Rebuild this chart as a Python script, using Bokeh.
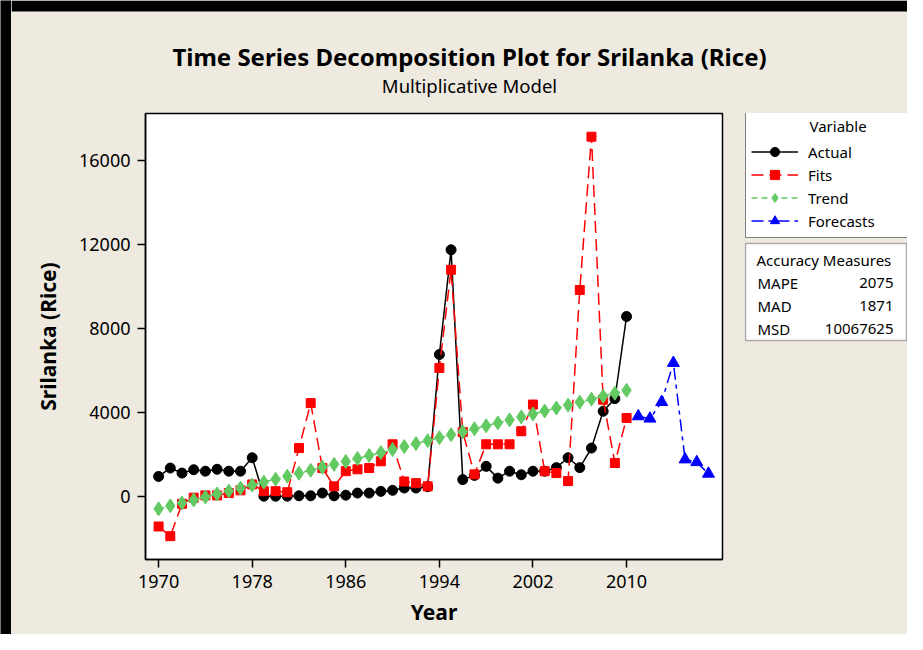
from bokeh.plotting import figure
from bokeh.layouts import row, column
from bokeh.models import Range1d, FixedTicker, Legend, LegendItem, Label, BoxAnnotation
from bokeh.embed import file_html
from bokeh.resources import INLINE

# ---------------- data ----------------
years = [1970, 1971, 1972, 1973, 1974, 1975, 1976, 1977, 1978, 1979,
         1980, 1981, 1982, 1983, 1984, 1985, 1986, 1987, 1988, 1989,
         1990, 1991, 1992, 1993, 1994, 1995, 1996, 1997, 1998, 1999,
         2000, 2001, 2002, 2003, 2004, 2005, 2006, 2007, 2008, 2009, 2010]
actual = [950, 1350, 1110, 1270, 1200, 1290, 1200, 1200, 1840, 10,
          10, 10, 30, 30, 160, 30, 60, 160, 160, 240,
          290, 400, 400, 460, 6750, 11730, 800, 1000, 1430, 870,
          1200, 1030, 1200, 1200, 1370, 1840, 1370, 2300, 4050, 4650, 8560]
fits = [-1430, -1890, -350, -60, 50, 50, 160, 290, 570, 250,
        250, 200, 2300, 4440, 1350, 480, 1200, 1290, 1350, 1670,
        2480, 710, 630, 480, 6110, 10780, 3060, 1050, 2480, 2480,
        2480, 3100, 4370, 1200, 1110, 730, 9820, 17110, 4600, 1590, 3730]
trend = [-590, -449, -308, -167, -26, 115, 256, 397, 538, 679,
         820, 961, 1102, 1243, 1384, 1525, 1666, 1807, 1948, 2089,
         2230, 2371, 2512, 2653, 2794, 2935, 3076, 3217, 3358, 3499,
         3640, 3781, 3922, 4063, 4204, 4345, 4486, 4627, 4768, 4909, 5050]
forecast_years = [2011, 2012, 2013, 2014, 2015, 2016, 2017]
forecasts = [3810, 3700, 4490, 6350, 1760, 1630, 1080]

x_ticks = [1970, 1978, 1986, 1994, 2002, 2010]
y_ticks = [0, 4000, 8000, 12000, 16000]

legend_labels = ["Actual", "Fits", "Trend", "Forecasts"]
accuracy_names = ["MAPE", "MAD", "MSD"]
accuracy_values = ["2075", "1871", "10067625"]

title_text = "Time Series Decomposition Plot for Srilanka (Rice)"
subtitle_text = "Multiplicative Model"

# ---------------- styling ----------------
BG = "#eeeae0"
FONT = "Noto Sans"
GREEN = "#63c963"
NAN = float("nan")
S = dict(left_units="screen", right_units="screen", top_units="screen",
         bottom_units="screen")

def blank(width, height, fill=BG):
    f = figure(width=width, height=height, output_backend="svg",
               toolbar_location=None, title=None, x_axis_type=None, y_axis_type=None,
               x_range=Range1d(0, 1), y_range=Range1d(0, 1),
               min_border=0, min_border_left=0, min_border_right=0,
               min_border_top=0, min_border_bottom=0,
               background_fill_color=fill, border_fill_color=fill)
    f.outline_line_color = None
    f.xgrid.visible = False
    f.ygrid.visible = False
    return f

def txt(x, y, text, size="15px", align="left", bold=False):
    return Label(x=x, y=y, x_units="screen", y_units="screen", text=text,
                 text_font=FONT, text_font_size=size, text_color="black",
                 text_font_style="bold" if bold else "normal",
                 text_baseline="middle", text_align=align)

# ---------------- main plot ----------------
p = figure(width=733, height=531, output_backend="svg", toolbar_location=None,
           title=None,
           x_range=Range1d(1968.88, 2018.2), y_range=Range1d(-3000, 18214),
           min_border_left=134, min_border_right=22, min_border_top=10,
           min_border_bottom=75,
           background_fill_color="white", border_fill_color=BG)
p.xgrid.visible = False
p.ygrid.visible = False
p.outline_line_color = "black"
p.outline_line_width = 1.5

p.xaxis.ticker = FixedTicker(ticks=x_ticks)
p.yaxis.ticker = FixedTicker(ticks=y_ticks)
p.xaxis.axis_label = "Year"
p.yaxis.axis_label = "Srilanka (Rice)"
for ax in (p.xaxis[0], p.yaxis[0]):
    ax.major_tick_out = 8
    ax.major_tick_in = 0
    ax.minor_tick_out = 0
    ax.minor_tick_in = 0
    ax.axis_line_color = "black"
    ax.axis_line_width = 1.5
    ax.major_tick_line_color = "black"
    ax.major_tick_line_width = 1.5
    ax.major_label_text_font = FONT
    ax.major_label_text_font_size = "18px"
    ax.major_label_text_color = "black"
    ax.major_label_standoff = 7
    ax.axis_label_text_font = FONT
    ax.axis_label_text_font_style = "bold"
    ax.axis_label_text_font_size = "21px"
    ax.axis_label_text_color = "black"
p.yaxis.axis_label_standoff = 14
p.xaxis.axis_label_standoff = 7

STY = {
    "Actual": dict(line=dict(line_color="black", line_width=1.5),
                   pts=dict(marker="circle", size=10, color="black")),
    "Fits": dict(line=dict(line_color="red", line_width=1.5, line_dash="12 6"),
                 pts=dict(marker="square", size=9, color="red")),
    "Trend": dict(line=dict(line_color=GREEN, line_width=1.5, line_dash="6 4"),
                  pts=dict(marker="diamond", size=14, color=GREEN)),
    "Forecasts": dict(line=dict(line_color="blue", line_width=1.5, line_dash="12 5 4 5"),
                      pts=dict(marker="triangle", size=12, color="blue")),
}
series = {"Actual": (years, actual), "Fits": (years, fits),
          "Trend": (years, trend), "Forecasts": (forecast_years, forecasts)}
for name in legend_labels:
    xs, ys = series[name]
    p.line(xs, ys, **STY[name]["line"])
    p.scatter(xs, ys, **STY[name]["pts"])

# ---------------- side panel: legend + accuracy ----------------
# (its frame is aligned with the main plot frame: 113..559 on the page)
side = blank(163, 531)
items = []
for name in legend_labels:
    # legend-only renderers: a single undefined (NaN) point draws nothing in the plot
    rl = side.line([NAN], [NAN], **STY[name]["line"])
    rp = side.scatter([NAN], [NAN], **STY[name]["pts"])
    items.append(LegendItem(label=name, renderers=[rl, rp]))
legend = Legend(
    items=items, location=(1, 321), margin=0, padding=5, spacing=0,
    title="\u00a0" * 15 + "Variable", title_text_font=FONT, title_text_color="black",
    title_text_font_size="15px", title_text_font_style="normal", title_standoff=4,
    label_text_font=FONT, label_text_font_size="15px", label_text_color="black",
    glyph_width=47, glyph_height=23, label_height=23, label_width=94,
    label_standoff=10,
    border_line_color="black", border_line_width=1.5,
    background_fill_color="white", background_fill_alpha=1.0)
side.add_layout(legend)

side.add_layout(BoxAnnotation(left=1, right=162, top=316, bottom=219, **S,
                              fill_color="white", fill_alpha=1.0,
                              line_color="black", line_width=1.5))
side.add_layout(txt(12, 300, "Accuracy Measures"))
for i, (nm, vl) in enumerate(zip(accuracy_names, accuracy_values)):
    yy = 277 - 23 * i
    side.add_layout(txt(13, yy, nm))
    side.add_layout(txt(149, yy, vl, align="right"))

# ---------------- top panel: titles ----------------
top = blank(896, 103)
top.add_layout(BoxAnnotation(left=0, right=896, top=103, bottom=92, **S,
                             fill_color="black", fill_alpha=1.0, line_alpha=0))
top.add_layout(txt(458, 47, title_text, size="24px", align="center", bold=True))
top.add_layout(txt(458, 18, subtitle_text, size="18.5px", align="center"))

# ---------------- left black frame strip ----------------
strip = blank(11, 634, fill="black")

layout = row(strip,
             column(top, row(p, side, spacing=0, styles={"background-color": BG}),
                    spacing=0, styles={"background-color": BG}),
             spacing=0, styles={"background-color": BG})

open("out.html", "w").write(file_html(layout, INLINE))
